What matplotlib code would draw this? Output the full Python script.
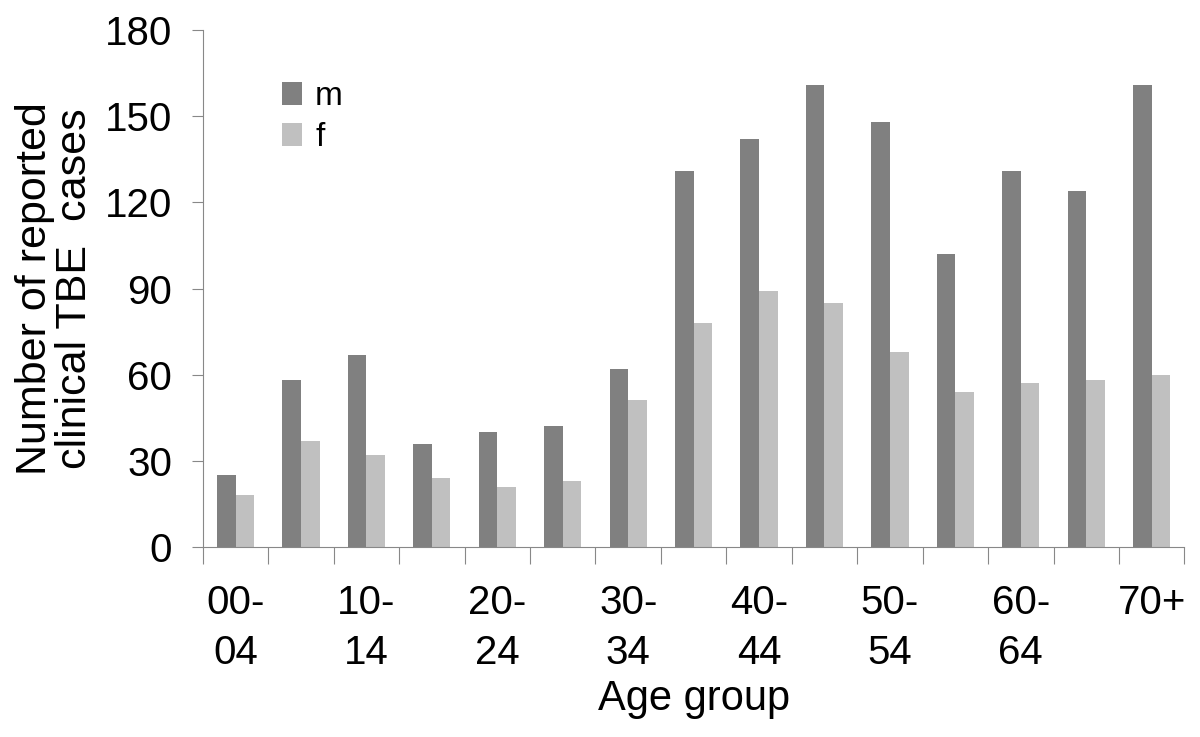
import matplotlib
matplotlib.use("Agg")
import matplotlib.pyplot as plt
import numpy as np

plt.rcParams['font.family'] = ['Liberation Sans', 'DejaVu Sans']

# data
groups = ['00-04', '05-09', '10-14', '15-19', '20-24', '25-29', '30-34', '35-39',
          '40-44', '45-49', '50-54', '55-59', '60-64', '65-69', '70+']
male = [25, 58, 67, 36, 40, 42, 62, 131, 142, 161, 148, 102, 131, 124, 161]
female = [18, 37, 32, 24, 21, 23, 51, 78, 89, 85, 68, 54, 57, 58, 60]
shown_labels = ['00-\n04', '10-\n14', '20-\n24', '30-\n34', '40-\n44', '50-\n54', '60-\n64', '70+']

fig = plt.figure(figsize=(12, 7.37), dpi=100)
ax = fig.add_axes([0.169, 0.258, 0.818, 0.701])

x = np.arange(len(groups))
w = 0.285
ax.bar(x - w / 2, male, w, color='#808080', label='m')
ax.bar(x + w / 2, female, w, color='#c0c0c0', label='f')

ax.set_xlim(-0.5, len(groups) - 0.5)
ax.set_ylim(0, 180)
ax.set_yticks(np.arange(0, 181, 30))

# tick marks on category boundaries, labels on every other category
ax.set_xticks(np.arange(-0.5, len(groups), 1))
ax.set_xticklabels([])
ax.set_xticks(x[::2], minor=True)
ax.set_xticklabels(shown_labels, minor=True, fontsize=29, linespacing=1.4,
                   va='top')
ax.tick_params(axis='x', which='major', length=12, color='#888888', direction='out')
ax.tick_params(axis='x', which='minor', length=0, pad=27)
ax.tick_params(axis='y', length=8, color='#888888', labelsize=29, pad=14)

for s in ['top', 'right']:
    ax.spines[s].set_visible(False)
for s in ['left', 'bottom']:
    ax.spines[s].set_color('#888888')

ax.set_xlabel('Age group', fontsize=30, labelpad=5)
ax.set_ylabel('Number of reported\nclinical TBE  cases', fontsize=31, labelpad=7, linespacing=1.0)

ax.legend(loc='upper left', bbox_to_anchor=(0.05, 0.96), frameon=False, fontsize=24,
          handlelength=0.6, handleheight=0.7, handletextpad=0.4, labelspacing=0.3)

fig.savefig('out.png', dpi=100)
